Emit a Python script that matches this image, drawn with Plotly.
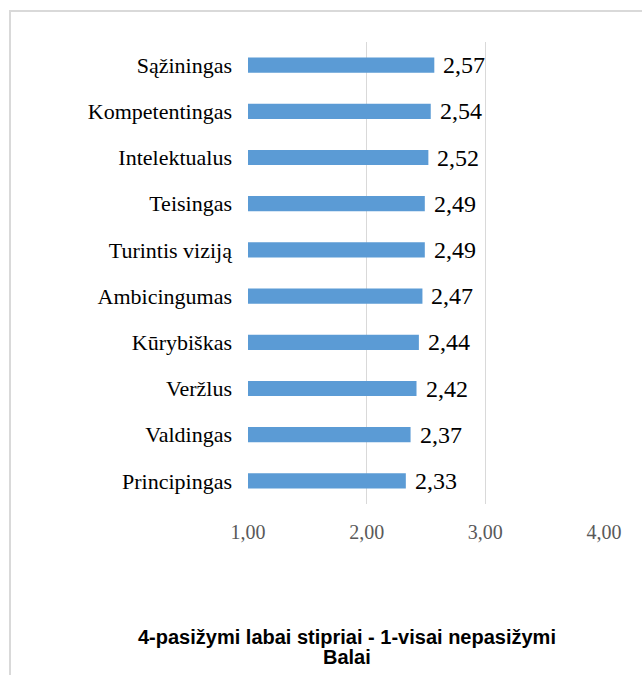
import plotly.graph_objects as go

# Trait scores (scale 1-4), listed bottom to top
traits = ["Principingas", "Valdingas", "Veržlus", "Kūrybiškas", "Ambicingumas",
          "Turintis viziją", "Teisingas", "Intelektualus", "Kompetentingas", "Sąžiningas"]
scores = [2.33, 2.37, 2.42, 2.44, 2.47, 2.49, 2.49, 2.52, 2.54, 2.57]
tick_values = [1, 2, 3, 4]

title_lines = ["4-pasižymi labai stipriai - 1-visai nepasižymi", "Balai"]

W, H = 642, 675
L, R, T, B = 248, 38, 42, 171
pw, ph = W - L - R, H - T - B

fig = go.Figure()
fig.add_trace(go.Bar(
    y=traits, x=[s - 1 for s in scores], base=1, orientation="h",
    marker=dict(color="#5b9bd5", line=dict(width=0)),
    width=0.33, hoverinfo="skip",
))

# value labels to the right of each bar
for t, s in zip(traits, scores):
    fig.add_annotation(
        x=s, y=t, text=f"{s:.2f}".replace(".", ","), showarrow=False,
        xanchor="left", xshift=7, yshift=0,
        font=dict(family="Liberation Serif", size=24, color="#000000"),
    )

# axis title below the plot, one annotation per line
for i, line in enumerate(title_lines):
    fig.add_annotation(
        xref="paper", yref="paper", x=(347 - L) / pw,
        y=-((637 + 20 * i) - (H - B)) / ph,
        text="<b>" + line + "</b>", showarrow=False,
        xanchor="center", yanchor="middle",
        font=dict(family="Liberation Sans", size=20, color="#000000"),
    )

# outer chart frame
fig.add_shape(
    type="rect", xref="paper", yref="paper",
    x0=(10 - L) / pw, x1=(700 - L) / pw,
    y0=-(720 - (H - B)) / ph, y1=((H - B) - 11) / ph,
    line=dict(color="#d9d9d9", width=2), fillcolor="rgba(0,0,0,0)", layer="below",
)

fig.update_layout(
    width=W, height=H, margin=dict(l=L, r=R, t=T, b=B),
    paper_bgcolor="white", plot_bgcolor="white",
    separators=",.", showlegend=False,
    xaxis=dict(
        range=[1, 4], tickvals=tick_values, tickformat=".2f",
        showgrid=True, gridcolor="#d9d9d9", gridwidth=1,
        zeroline=False, showline=False, ticks="",
        ticklabelstandoff=14,
        tickfont=dict(family="Liberation Serif", size=20, color="#595959"),
        fixedrange=True,
    ),
    yaxis=dict(
        categoryorder="array", categoryarray=traits,
        showgrid=False, zeroline=False, showline=False, ticks="",
        ticklabelstandoff=15,
        tickfont=dict(family="Liberation Serif", size=22, color="#000000"),
        fixedrange=True,
    ),
)

fig.write_html("out.html")
